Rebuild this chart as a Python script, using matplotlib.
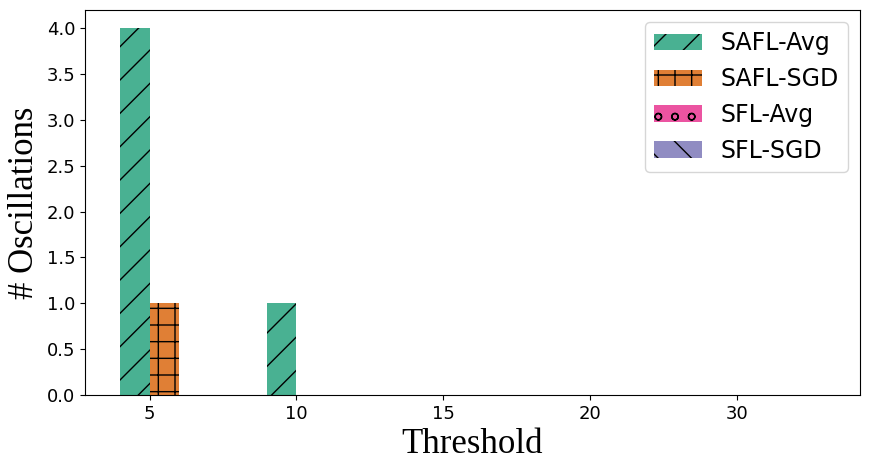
import numpy as np
import matplotlib
matplotlib.use("Agg")
import matplotlib.pyplot as plt

# data
thresholds = ['5', '10', '15', '20', '30']
safl_avg = [4, 1, 0, 0, 0]
safl_sgd = [1, 0, 0, 0, 0]
sfl_avg = [0, 0, 0, 0, 0]
sfl_sgd = [0, 0, 0, 0, 0]

labels = ['SAFL-Avg', 'SAFL-SGD', 'SFL-Avg', 'SFL-SGD']
colors = ['#1b9e77', '#d95f02', '#e7298a', '#7570b3']
hatches = ['/', '+', 'o', '\\']

fig, ax = plt.subplots(figsize=(8.7, 4.69), dpi=100)
fig.subplots_adjust(left=0.0977, right=0.9885, top=0.9787, bottom=0.1578)

x = np.arange(len(thresholds))
w = 0.2
series = [safl_avg, safl_sgd, sfl_avg, sfl_sgd]
for i, vals in enumerate(series):
    ax.bar(x - w / 2 + i * w, vals, w, color=colors[i], alpha=0.8,
           hatch=hatches[i], label=labels[i])

ax.set_xticks(x)
ax.set_xticklabels(thresholds)
ax.tick_params(labelsize=13)
ax.set_xlabel('Threshold', fontsize=25, family='Liberation Serif')
ax.set_ylabel('# Oscillations', fontsize=25, family='Liberation Serif')
ax.legend(loc='upper right', fontsize=17)

fig.savefig('out.png', dpi=100)
